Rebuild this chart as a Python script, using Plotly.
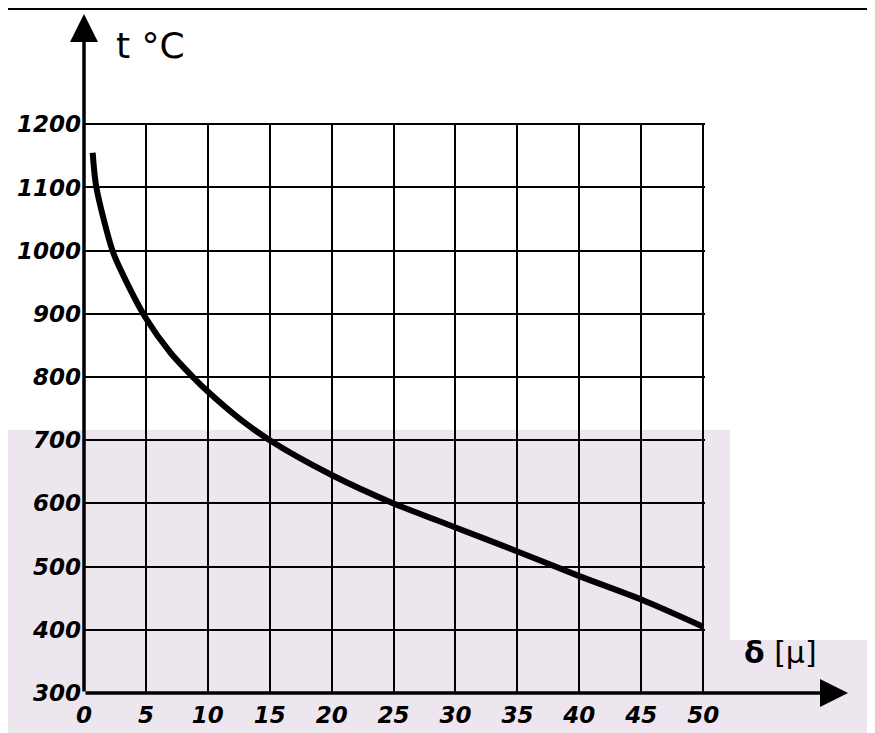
import plotly.graph_objects as go

# ---- data ----
thickness_um = [0.7, 1.0, 2.3, 3.0, 5.0, 7.0, 8.8, 10.0, 12.5, 15.0, 20.0, 25.0, 30.0, 35.0, 40.0, 45.0, 50.0]
temperature_c = [1155, 1100, 1000, 968, 893, 838, 800, 777, 735, 700, 645, 600, 562, 524, 485, 448, 405]

x_ticks = [0, 5, 10, 15, 20, 25, 30, 35, 40, 45, 50]
y_ticks = [300, 400, 500, 600, 700, 800, 900, 1000, 1100, 1200]
x_tick_labels = [str(v) for v in x_ticks]
y_tick_labels = [str(v) for v in y_ticks]

OFF = 8  # page body margin in the browser
W, H = 875 - OFF, 733 - OFF
L, R, T, B = 76, 170, 115, 40
PW, PH = W - L - R, H - T - B
X_RANGE = [0, 50.15]
Y_RANGE = [300, 1202]


def px(xpix):
    return (xpix - OFF - L) / PW


def py(ypix):
    return (H - B - (ypix - OFF)) / PH


fig = go.Figure()

fig.add_trace(go.Scatter(
    x=thickness_um, y=temperature_c, mode="lines",
    line=dict(color="black", width=6, shape="spline", smoothing=0.8),
    hoverinfo="x+y", showlegend=False,
))

tick_font = dict(family="DejaVu Sans", size=23, color="black", weight="bold", style="italic")

fig.update_xaxes(
    range=X_RANGE, tickvals=x_ticks, ticktext=x_tick_labels, automargin=False,
    showgrid=True, gridcolor="black", gridwidth=1.5, zeroline=False,
    showline=False, ticks="", tickfont=tick_font, ticklabelstandoff=6,
)
fig.update_yaxes(
    range=Y_RANGE, tickvals=y_ticks, ticktext=y_tick_labels, automargin=False,
    showgrid=True, gridcolor="black", gridwidth=1.5, zeroline=False,
    showline=False, ticks="", tickfont=tick_font, ticklabelstandoff=2,
)

tint = "#eee6ee"
shapes = [
    dict(type="rect", xref="paper", yref="paper", x0=px(0), x1=px(730), y0=py(740), y1=py(430),
         fillcolor=tint, line=dict(width=0), layer="below"),
    dict(type="rect", xref="paper", yref="paper", x0=px(730), x1=px(880), y0=py(740), y1=py(640),
         fillcolor=tint, line=dict(width=0), layer="below"),
    dict(type="line", xref="paper", yref="paper", x0=px(0), x1=px(880), y0=py(9), y1=py(9),
         line=dict(color="black", width=2)),
]

annotations = [
    # y axis with arrow
    dict(xref="paper", yref="paper", x=0, y=py(14), ax=0, ay=693 - 14,
         showarrow=True, arrowhead=2, arrowsize=1.6, arrowwidth=3.5, arrowcolor="black", text=""),
    # x axis with arrow
    dict(xref="paper", yref="paper", x=px(848), y=0, ax=-(848 - 84), ay=0,
         showarrow=True, arrowhead=2, arrowsize=1.6, arrowwidth=3.5, arrowcolor="black", text=""),
    dict(xref="paper", yref="paper", x=px(114), y=py(45), xanchor="left", yanchor="middle",
         text="t °C", showarrow=False, font=dict(family="DejaVu Sans", size=36, color="black")),
    dict(xref="paper", yref="paper", x=px(742), y=py(652), xanchor="left", yanchor="middle",
         text="<b>δ</b> [μ]", showarrow=False, font=dict(family="DejaVu Sans", size=30, color="black")),
]

fig.update_layout(
    width=W, height=H, autosize=False,
    margin=dict(l=L, r=R, t=T, b=B, pad=0),
    paper_bgcolor="white", plot_bgcolor="rgba(0,0,0,0)",
    shapes=shapes, annotations=annotations, showlegend=False,
)

fig.write_html("out.html")
